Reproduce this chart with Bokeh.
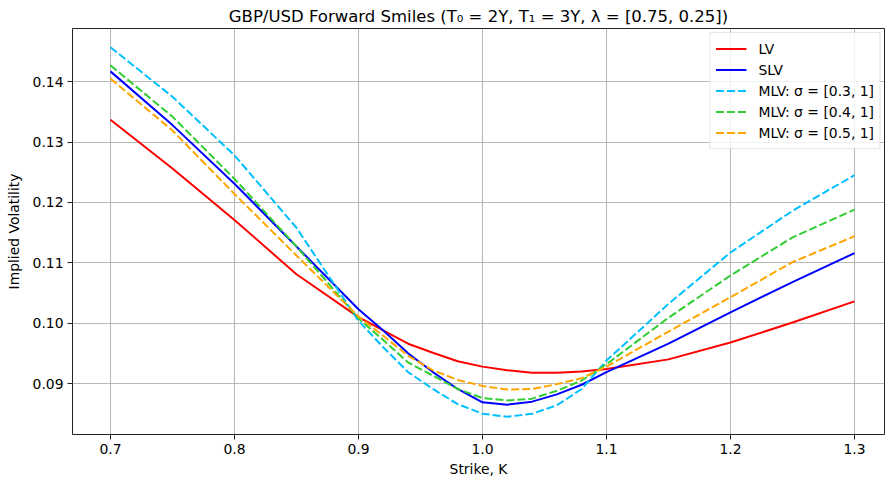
from bokeh.plotting import figure
from bokeh.models import FixedTicker, Legend, LegendItem, Range1d
from bokeh.embed import file_html
from bokeh.resources import INLINE

strikes = [0.70, 0.75, 0.80, 0.85, 0.90, 0.92, 0.94, 0.96, 0.98, 1.00,
           1.02, 1.04, 1.06, 1.08, 1.10, 1.15, 1.20, 1.25, 1.30]

lv = [0.1337, 0.1256, 0.1171, 0.1081, 0.1010, 0.0988, 0.0966, 0.0951, 0.0937, 0.0928,
      0.0922, 0.0918, 0.0918, 0.0920, 0.0924, 0.0940, 0.0968, 0.1001, 0.1036]
slv = [0.1417, 0.1328, 0.1231, 0.1127, 0.1023, 0.0988, 0.0950, 0.0919, 0.0891, 0.0869,
       0.0865, 0.0870, 0.0882, 0.0898, 0.0919, 0.0966, 0.1018, 0.1068, 0.1116]
mlv_03 = [0.1457, 0.1375, 0.1278, 0.1158, 0.1004, 0.0960, 0.0919, 0.0891, 0.0866, 0.0850,
          0.0845, 0.0850, 0.0864, 0.0891, 0.0938, 0.1032, 0.1117, 0.1186, 0.1245]
mlv_04 = [0.1427, 0.1342, 0.1239, 0.1127, 0.1008, 0.0972, 0.0935, 0.0913, 0.0891, 0.0876,
          0.0872, 0.0875, 0.0888, 0.0905, 0.0932, 0.1009, 0.1079, 0.1142, 0.1188]
mlv_05 = [0.1405, 0.1319, 0.1214, 0.1112, 0.1011, 0.0979, 0.0946, 0.0922, 0.0906, 0.0896,
          0.0890, 0.0891, 0.0899, 0.0909, 0.0928, 0.0986, 0.1043, 0.1101, 0.1144]

x_ticks = [0.7, 0.8, 0.9, 1.0, 1.1, 1.2, 1.3]
y_ticks = [0.09, 0.10, 0.11, 0.12, 0.13, 0.14]
x_tick_labels = ["0.7", "0.8", "0.9", "1.0", "1.1", "1.2", "1.3"]
y_tick_labels = ["0.09", "0.10", "0.11", "0.12", "0.13", "0.14"]

series = [
    ("LV", lv, "red", "solid"),
    ("SLV", slv, "blue", "solid"),
    ("MLV: σ = [0.3, 1]", mlv_03, "deepskyblue", "dashed"),
    ("MLV: σ = [0.4, 1]", mlv_04, "limegreen", "dashed"),
    ("MLV: σ = [0.5, 1]", mlv_05, "orange", "dashed"),
]

FONT = "DejaVu Sans"

p = figure(width=885, height=483, output_backend="svg", toolbar_location=None,
           x_range=Range1d(0.6694, 1.3242), y_range=Range1d(0.08156, 0.1488))
p.min_border_left = 72
p.min_border_right = 1
p.min_border_top = 28
p.min_border_bottom = 49
p.background_fill_color = "white"
p.border_fill_color = "white"
p.outline_line_color = "#222222"
p.outline_line_width = 1

p.title.text = "GBP/USD Forward Smiles (T\u2080 = 2Y, T\u2081 = 3Y, \u03bb = [0.75, 0.25])"
p.title.align = "center"
p.title.text_font = FONT
p.title.text_font_size = "16.5px"
p.title.text_font_style = "normal"
p.title.text_color = "black"
p.title.offset = 0
p.title.standoff = 6

for ax, ticks, labels in ((p.xaxis[0], x_ticks, x_tick_labels), (p.yaxis[0], y_ticks, y_tick_labels)):
    ax.ticker = FixedTicker(ticks=ticks)
    ax.major_label_overrides = {t: l for t, l in zip(ticks, labels)}
    ax.major_label_text_font = FONT
    ax.major_label_text_font_size = "13.9px"
    ax.major_label_text_color = "black"
    ax.axis_label_text_font = FONT
    ax.axis_label_text_font_size = "13.9px"
    ax.axis_label_text_font_style = "normal"
    ax.axis_label_text_color = "black"
    ax.major_tick_out = 5
    ax.major_tick_in = 0
    ax.minor_tick_out = 0
    ax.minor_tick_in = 0
    ax.axis_line_color = None
    ax.major_tick_line_color = "#222222"
    ax.major_label_standoff = 4

p.xaxis.axis_label = "Strike, K"
p.yaxis.axis_label = "Implied Volatility"
p.xaxis.axis_label_standoff = 4
p.yaxis.axis_label_standoff = 8

p.xgrid.ticker = FixedTicker(ticks=x_ticks)
p.ygrid.ticker = FixedTicker(ticks=y_ticks)
for g in (p.xgrid[0], p.ygrid[0]):
    g.grid_line_color = "#b0b0b0"
    g.grid_line_width = 1.1
    g.grid_line_alpha = 0.9

items = []
for label, ys, color, dash in series:
    r = p.line(strikes, ys, line_color=color, line_width=2,
               line_dash=("8 3" if dash == "dashed" else "solid"))
    items.append(LegendItem(label=label, renderers=[r]))

legend = Legend(items=items, location="top_right")
legend.margin = 4
legend.padding = 5
legend.spacing = 0
legend.label_height = 21
legend.glyph_height = 21
legend.glyph_width = 31
legend.label_standoff = 12
legend.label_text_font = FONT
legend.label_text_font_size = "13.9px"
legend.label_text_color = "black"
legend.border_line_color = "#cccccc"
legend.border_line_width = 1
legend.background_fill_color = "white"
legend.background_fill_alpha = 0.8
p.add_layout(legend)

open("out.html", "w").write(file_html(p, INLINE))
